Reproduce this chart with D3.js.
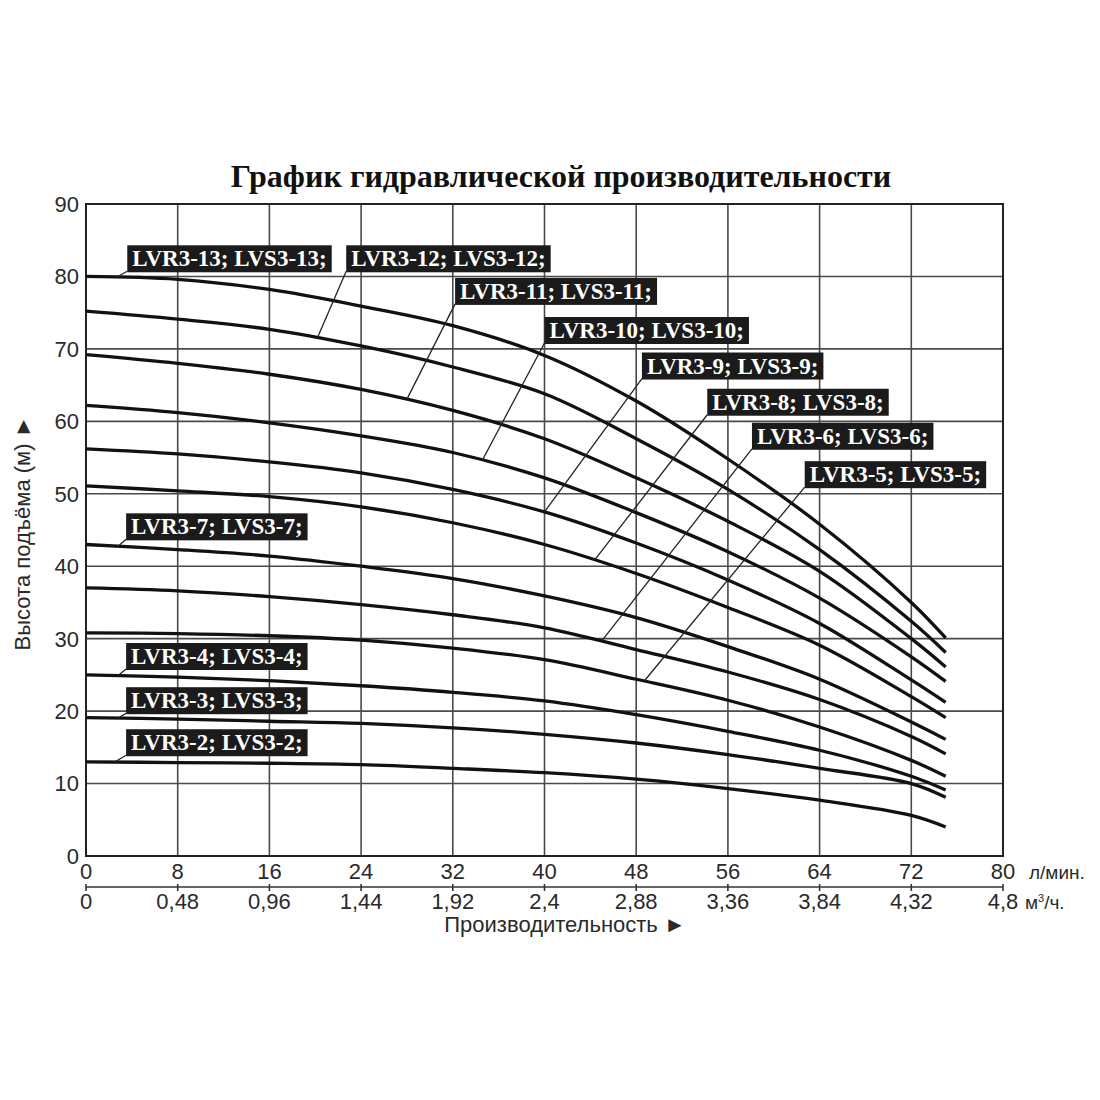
<!DOCTYPE html>
<html>
<head>
<meta charset="utf-8">
<script src="https://cdn.jsdelivr.net/npm/d3@7"></script>
<style>
  body { margin: 0; background: #fff; }
  svg { display: block; }
</style>
</head>
<body>
<div id="chart"></div>
<script>
const flowLpm = [0, 8, 16, 24, 32, 40, 48, 56, 64, 72, 75]

// head (m) per pump model
const head13 = [80.0, 79.6, 78.2, 75.9, 73.2, 69.1, 62.8, 54.8, 45.8, 35.0, 30.1]
const head12 = [75.2, 74.1, 72.7, 70.4, 67.5, 63.8, 57.6, 50.6, 42.3, 32.4, 28.1]
const head11 = [69.2, 68.0, 66.5, 64.4, 61.5, 57.6, 52.2, 46.2, 39.3, 30.0, 26.1]
const head10 = [62.2, 61.2, 59.8, 58.0, 55.7, 52.2, 47.4, 42.0, 35.6, 27.5, 24.1]
const head9  = [56.2, 55.5, 54.4, 52.9, 50.6, 47.5, 43.2, 38.1, 32.1, 24.3, 21.2]
const head8  = [51.1, 50.4, 49.6, 48.2, 46.0, 43.0, 39.0, 34.3, 29.1, 22.0, 19.1]
const head7  = [43.0, 42.3, 41.4, 40.0, 38.3, 35.9, 32.9, 28.9, 24.4, 18.5, 16.1]
const head6  = [37.0, 36.6, 35.8, 34.7, 33.3, 31.5, 28.5, 25.4, 21.6, 16.5, 14.1]
const head5  = [30.8, 30.7, 30.4, 29.8, 28.7, 27.1, 24.4, 21.5, 17.8, 13.2, 11.0]
const head4  = [25.0, 24.7, 24.2, 23.5, 22.6, 21.4, 19.5, 17.2, 14.6, 11.0, 9.1]
const head3  = [19.1, 18.9, 18.6, 18.3, 17.7, 16.8, 15.6, 14.0, 12.1, 10.0, 8.1]
const head2  = [13.0, 12.9, 12.8, 12.6, 12.1, 11.5, 10.6, 9.3, 7.7, 5.6, 4.0]

const stages = [13, 12, 11, 10, 9, 8, 7, 6, 5, 4, 3, 2]
const heads = [head13, head12, head11, head10, head9, head8, head7, head6, head5, head4, head3, head2]

// axis ticks
const xTicksLpm = [0, 8, 16, 24, 32, 40, 48, 56, 64, 72, 80]
const xTicksM3h = ["0", "0,48", "0,96", "1,44", "1,92", "2,4", "2,88", "3,36", "3,84", "4,32", "4,8"]
const yTicks = [0, 10, 20, 30, 40, 50, 60, 70, 80, 90]

const title = "График гидравлической производительности"
const yTitle = "Высота подъёма (м) ►"
const xTitle = "Производительность ►"

// label placement: stage, box top-left (flow, head), flow where the leader meets the curve
const labelSpots = [
  [13, 3.6, 84.3, 2.7],
  [12, 22.7, 84.3, 20.2],
  [11, 32.2, 79.8, 28.0],
  [10, 40.0, 74.4, 34.6],
  [9, 48.5, 69.5, 40.0],
  [8, 54.2, 64.5, 44.4],
  [6, 58.1, 59.8, 45.0],
  [5, 62.7, 54.5, 48.7],
  [7, 3.5, 47.3, 2.8],
  [4, 3.5, 29.4, 2.8],
  [3, 3.5, 23.3, 2.8],
  [2, 3.5, 17.5, 2.5]
]

const W = 1100, H = 1100
const plot = {left: 86, right: 1003, top: 204, bottom: 856}
const sans = "'Liberation Sans', Arial, 'DejaVu Sans', sans-serif"
const serif = "'Liberation Serif', 'Times New Roman', serif"

const svg = d3.select('#chart').append('svg')
  .attr('width', W)
  .attr('height', H)

svg.append('rect').attr('width', W).attr('height', H).attr('fill', '#fff')

const x = d3.scaleLinear().domain([0, 80]).range([plot.left, plot.right])
const y = d3.scaleLinear().domain([0, 90]).range([plot.bottom, plot.top])

// title
svg.append('text')
  .attr('x', 561)
  .attr('y', 187)
  .attr('text-anchor', 'middle')
  .style('font-family', serif)
  .style('font-weight', 'bold')
  .style('font-size', '32px')
  .attr('fill', '#111')
  .text(title)

// grid
const grid = svg.append('g')
grid.selectAll('.vg')
  .data(xTicksLpm)
  .enter()
  .append('line')
  .attr('x1', d => x(d)).attr('x2', d => x(d))
  .attr('y1', y(0)).attr('y2', y(90))
  .attr('stroke', '#4a4a4a')
  .attr('stroke-width', 1.6)
grid.selectAll('.hg')
  .data(yTicks)
  .enter()
  .append('line')
  .attr('x1', x(0)).attr('x2', x(80))
  .attr('y1', d => y(d)).attr('y2', d => y(d))
  .attr('stroke', '#4a4a4a')
  .attr('stroke-width', 1.6)
grid.append('rect')
  .attr('x', x(0)).attr('y', y(90))
  .attr('width', x(80) - x(0)).attr('height', y(0) - y(90))
  .attr('fill', 'none')
  .attr('stroke', '#222')
  .attr('stroke-width', 2)

// y tick labels
svg.selectAll('.ylab')
  .data(yTicks)
  .enter()
  .append('text')
  .attr('x', 79)
  .attr('y', d => y(d))
  .attr('dy', '0.36em')
  .attr('text-anchor', 'end')
  .style('font-family', sans)
  .style('font-size', '22px')
  .attr('fill', '#2a2a2a')
  .text(d => d)

// y title
svg.append('text')
  .attr('transform', 'translate(30,533) rotate(-90)')
  .attr('text-anchor', 'middle')
  .style('font-family', sans)
  .style('font-size', '22px')
  .attr('fill', '#2a2a2a')
  .text(yTitle)

// x tick labels, l/min
svg.selectAll('.xlab')
  .data(xTicksLpm)
  .enter()
  .append('text')
  .attr('x', d => x(d))
  .attr('y', 879)
  .attr('text-anchor', 'middle')
  .style('font-family', sans)
  .style('font-size', '22px')
  .attr('fill', '#2a2a2a')
  .text(d => d)

svg.append('text')
  .attr('x', 1029).attr('y', 879)
  .style('font-family', sans)
  .style('font-size', '19px')
  .attr('fill', '#2a2a2a')
  .text('л/мин.')

// second axis, m3/h
const ax2 = svg.append('g')
ax2.append('line')
  .attr('x1', x(0)).attr('x2', x(80))
  .attr('y1', 887).attr('y2', 887)
  .attr('stroke', '#333')
  .attr('stroke-width', 1.6)
ax2.selectAll('.t2')
  .data(xTicksLpm)
  .enter()
  .append('line')
  .attr('x1', d => x(d)).attr('x2', d => x(d))
  .attr('y1', 884).attr('y2', 891)
  .attr('stroke', '#333')
  .attr('stroke-width', 1.6)
ax2.selectAll('.m3lab')
  .data(xTicksM3h)
  .enter()
  .append('text')
  .attr('x', (d, i) => x(xTicksLpm[i]))
  .attr('y', 909)
  .attr('text-anchor', 'middle')
  .style('font-family', sans)
  .style('font-size', '22px')
  .attr('fill', '#2a2a2a')
  .text(d => d)

const unit2 = svg.append('text')
  .attr('x', 1025).attr('y', 909)
  .style('font-family', sans)
  .style('font-size', '19px')
  .attr('fill', '#2a2a2a')
unit2.append('tspan').text('м')
unit2.append('tspan').attr('dy', -7).style('font-size', '11px').text('3')
unit2.append('tspan').attr('dy', 7).text('/ч.')

// x title
svg.append('text')
  .attr('x', 565).attr('y', 932)
  .attr('text-anchor', 'middle')
  .style('font-family', sans)
  .style('font-size', '22px')
  .attr('fill', '#2a2a2a')
  .text(xTitle)

// pump curves
const line = d3.line()
  .x((d, i) => x(flowLpm[i]))
  .y(d => y(d))
  .curve(d3.curveCatmullRom.alpha(0.5))

const curvePaths = {}
svg.append('g')
  .selectAll('path')
  .data(heads)
  .enter()
  .append('path')
  .attr('d', line)
  .attr('fill', 'none')
  .attr('stroke', '#111')
  .attr('stroke-width', 3.3)
  .each(function(d, i) { curvePaths[stages[i]] = this })

// point on a drawn curve at a given flow
function pointAt(path, flow) {
  let tx = x(flow), lo = 0, hi = path.getTotalLength()
  for (let k = 0; k < 40; k++) {
    let mid = (lo + hi) / 2
    if (path.getPointAtLength(mid).x < tx) lo = mid
    else hi = mid
  }
  return path.getPointAtLength((lo + hi) / 2)
}

// labels
const boxH = 27
const labels = svg.append('g')
labelSpots.forEach(function(s) {
  let bx = x(s[1]), by = y(s[2])
  let p = pointAt(curvePaths[s[0]], s[3])
  labels.append('line')
    .attr('x1', bx).attr('y1', by + boxH - 1)
    .attr('x2', p.x).attr('y2', p.y)
    .attr('stroke', '#222')
    .attr('stroke-width', 1.3)
  let g = labels.append('g')
  let rect = g.append('rect')
    .attr('x', bx).attr('y', by)
    .attr('height', boxH)
    .attr('fill', '#1b1b1b')
  let t = g.append('text')
    .attr('x', bx + 5).attr('y', by + 21)
    .style('font-family', serif)
    .style('font-weight', 'bold')
    .style('font-size', '23px')
    .attr('fill', '#fff')
    .text('LVR3-' + s[0] + '; LVS3-' + s[0] + ';')
  rect.attr('width', t.node().getComputedTextLength() + 10)
})
</script>
</body>
</html>
